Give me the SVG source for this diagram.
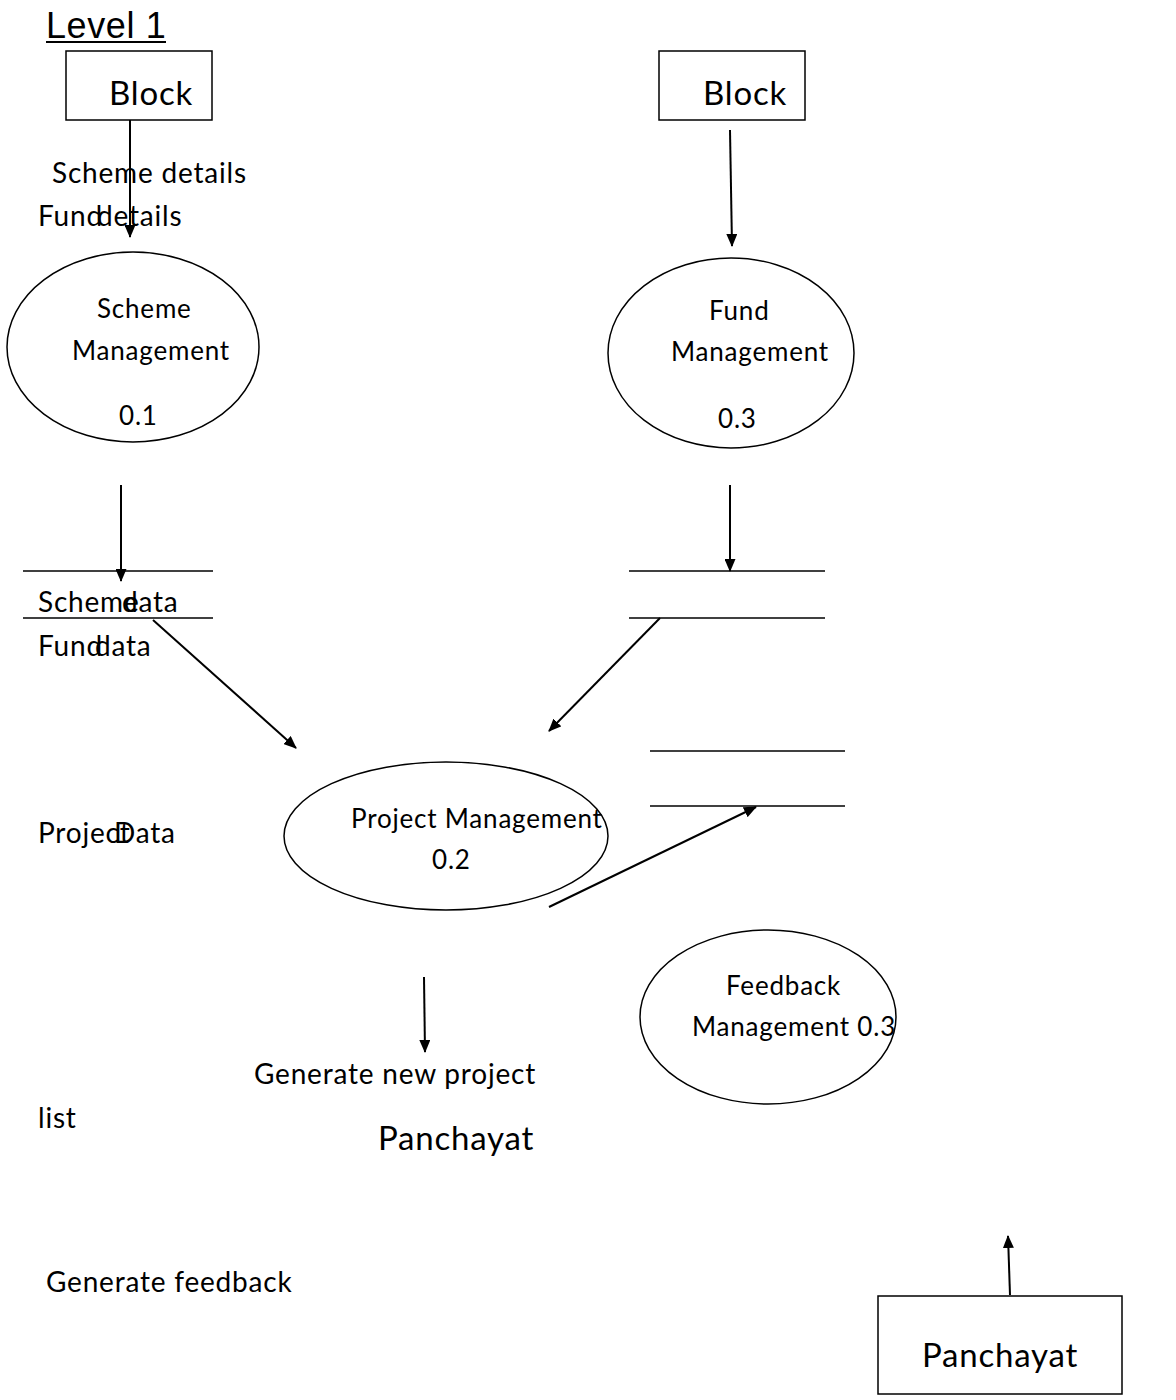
<svg xmlns="http://www.w3.org/2000/svg" width="1176" height="1400" viewBox="0 0 1176 1400">
<style>
.t{font-family:Lato,"Noto Sans","Liberation Sans",sans-serif;fill:#000;letter-spacing:0.8px}
.s{font-size:28px}
.m{font-size:26px}
.b{font-size:33px}
.shape{fill:none;stroke:#000;stroke-width:1.5}
.ln{stroke:#000;stroke-width:1.5}
.ar{stroke:#000;stroke-width:2;fill:none;marker-end:url(#ah)}
</style>
<defs>
<marker id="ah" markerWidth="13" markerHeight="11" refX="12" refY="5.5" orient="auto" markerUnits="userSpaceOnUse">
<path d="M0,0 L13,5.5 L0,11 z" fill="#000"/>
</marker>
</defs>
<rect width="1176" height="1400" fill="#fff"/>
<g id="title">
<text x="46" y="38" style="font-family:'Liberation Sans',Arial,sans-serif;font-size:36px;letter-spacing:0.6px">Level 1</text>
<line x1="46" y1="42" x2="166" y2="42" stroke="#000" stroke-width="2"/>
</g>
<g id="block1"><rect x="66" y="51" width="146" height="69" class="shape"/><text x="109" y="105" class="t b">Block</text></g>
<g id="block2"><rect x="659" y="51" width="146" height="69" class="shape"/><text x="703" y="105" class="t b">Block</text></g>
<g id="p01"><ellipse cx="133" cy="347" rx="126" ry="95" class="shape"/><text x="97" y="318" class="t m">Scheme</text><text x="72" y="360" class="t m">Management</text><text x="119" y="425" class="t m">0.1</text></g>
<g id="p03"><ellipse cx="731" cy="353" rx="123" ry="95" class="shape"/><text x="709" y="320" class="t m">Fund</text><text x="671" y="361" class="t m">Management</text><text x="718" y="428" class="t m">0.3</text></g>
<g id="store1"><line x1="23" y1="571" x2="213" y2="571" class="ln"/><line x1="23" y1="618" x2="213" y2="618" class="ln"/></g>
<g id="store2"><line x1="629" y1="571" x2="825" y2="571" class="ln"/><line x1="629" y1="618" x2="825" y2="618" class="ln"/></g>
<g id="store3"><line x1="650" y1="751" x2="845" y2="751" class="ln"/><line x1="650" y1="806" x2="845" y2="806" class="ln"/></g>
<g id="p02"><ellipse cx="446" cy="836" rx="162" ry="74" class="shape"/><text x="351" y="828" class="t m">Project Management</text><text x="432" y="869" class="t m">0.2</text></g>
<g id="p04"><ellipse cx="768" cy="1017" rx="128" ry="87" class="shape"/><text x="726" y="995" class="t m">Feedback</text><text x="692" y="1036" class="t m">Management 0.3</text></g>
<g id="panchayat"><rect x="878" y="1296" width="244" height="98" class="shape"/><text x="922" y="1367" class="t b">Panchayat</text></g>
<g id="connectors">
<line x1="130" y1="120" x2="130" y2="237" class="ar"/>
<line x1="730" y1="130" x2="732" y2="246" class="ar"/>
<line x1="121" y1="485" x2="121" y2="581" class="ar"/>
<line x1="730" y1="485" x2="730" y2="571" class="ar"/>
<line x1="153" y1="620" x2="296" y2="748" class="ar"/>
<line x1="660" y1="618" x2="549" y2="731" class="ar"/>
<line x1="549" y1="907" x2="756" y2="807" class="ar"/>
<line x1="424" y1="977" x2="425" y2="1052" class="ar"/>
<line x1="1010" y1="1295" x2="1008" y2="1236" class="ar"/>
</g>
<g id="labels">
<text x="52" y="183" class="t s">Scheme details</text>
<text x="38" y="226" class="t s">Fund</text>
<text x="97" y="226" class="t s">details</text>
<text x="38" y="612" class="t s">Scheme</text>
<text x="122" y="612" class="t s">data</text>
<text x="38" y="656" class="t s">Fund</text>
<text x="95" y="656" class="t s">data</text>
<text x="38" y="843" class="t s">Project</text>
<text x="114" y="843" class="t s">Data</text>
<text x="254" y="1084" class="t s">Generate new project</text>
<text x="38" y="1128" class="t s">list</text>
<text x="378" y="1150" class="t b">Panchayat</text>
<text x="46" y="1292" class="t s">Generate feedback</text>
</g>
</svg>
